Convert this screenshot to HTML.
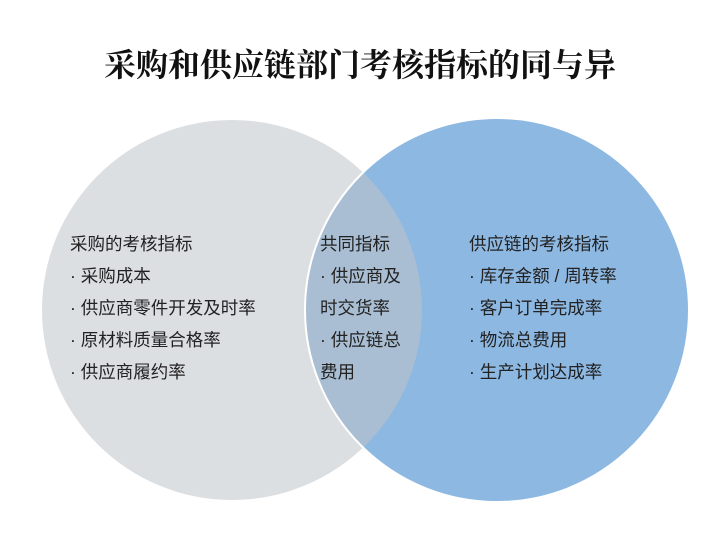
<!DOCTYPE html>
<html><head><meta charset="utf-8"><style>
body{margin:0;background:#fff;width:720px;height:540px;overflow:hidden;}
svg text{font-family:"Liberation Sans","Noto Sans CJK SC",sans-serif;font-size:17.5px;fill:#222;}
</style></head><body>
<svg width="720" height="540" xmlns="http://www.w3.org/2000/svg">
<text x="360" y="76" text-anchor="middle" style="font-family:'Liberation Serif','Noto Serif CJK SC',serif;font-size:32px;font-weight:bold;fill:#111">采购和供应链部门考核指标的同与异</text>
<defs><clipPath id="lc"><circle cx="232" cy="310" r="190"/></clipPath></defs>
<circle cx="232" cy="310" r="190" fill="#dcdfe2"/>
<circle cx="497" cy="310" r="192" fill="#8db8e2"/>
<circle cx="497" cy="310" r="192" fill="#a9bed3" clip-path="url(#lc)"/>
<circle cx="497" cy="310" r="192" fill="none" stroke="#fff" stroke-width="2"/>
<g>
<text x="70" y="250">采购的考核指标</text>
<text x="70" y="282">· 采购成本</text>
<text x="70" y="314">· 供应商零件开发及时率</text>
<text x="70" y="346">· 原材料质量合格率</text>
<text x="70" y="378">· 供应商履约率</text>
<text x="320" y="250">共同指标</text>
<text x="320" y="282">· 供应商及</text>
<text x="320" y="314">时交货率</text>
<text x="320" y="346">· 供应链总</text>
<text x="320" y="378">费用</text>
<text x="469" y="250">供应链的考核指标</text>
<text x="469" y="282">· 库存金额 / 周转率</text>
<text x="469" y="314">· 客户订单完成率</text>
<text x="469" y="346">· 物流总费用</text>
<text x="469" y="378">· 生产计划达成率</text>
</g>
</svg>
</body></html>
